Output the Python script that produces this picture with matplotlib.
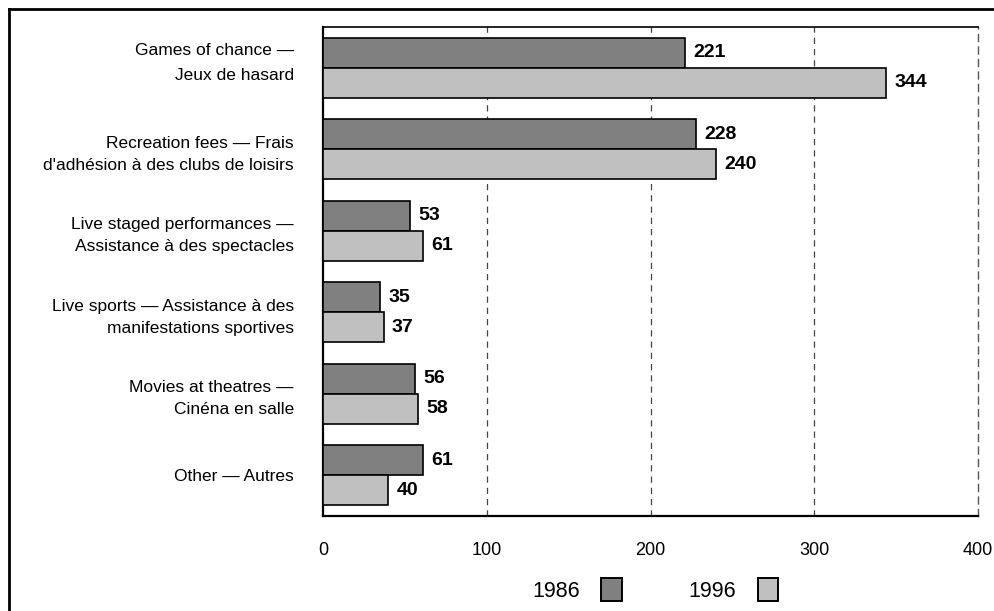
import matplotlib
matplotlib.use("Agg")
import matplotlib.pyplot as plt
import matplotlib.transforms as mtransforms
from matplotlib.lines import Line2D
from matplotlib.patches import Patch
import numpy as np

plt.rcParams['font.family'] = ['Liberation Sans', 'DejaVu Sans']

categories = [
    "Games of chance —\nJeux de hasard",
    "Recreation fees — Frais\nd'adhésion à des clubs de loisirs",
    "Live staged performances —\nAssistance à des spectacles",
    "Live sports — Assistance à des\nmanifestations sportives",
    "Movies at theatres —\nCinéna en salle",
    "Other — Autres",
]
years = ["1986", "1996"]
values_1986 = [221, 228, 53, 35, 56, 61]
values_1996 = [344, 240, 61, 37, 58, 40]
x_ticks = [0, 100, 200, 300, 400]

W, H = 995, 611
fig = plt.figure(figsize=(W / 100, H / 100), dpi=100)
ax = fig.add_axes([323 / W, 1 - 516 / H, (978 - 323) / W, (516 - 27) / H])

colors = ["#808080", "#c0c0c0"]
n = len(categories)
y = np.arange(n)
bh = 0.368

ax.barh(y - bh / 2, values_1986, height=bh, color=colors[0], edgecolor="black", linewidth=1.2, zorder=3)
ax.barh(y + bh / 2, values_1996, height=bh, color=colors[1], edgecolor="black", linewidth=1.2, zorder=3)

for yi, v in zip(y - bh / 2, values_1986):
    ax.annotate(str(v), (v, yi), xytext=(6, 0), textcoords="offset points",
                va="center", ha="left", fontsize=14, fontweight="bold")
for yi, v in zip(y + bh / 2, values_1996):
    ax.annotate(str(v), (v, yi), xytext=(6, 0), textcoords="offset points",
                va="center", ha="left", fontsize=14, fontweight="bold")

ax.set_xlim(0, 400)
ax.set_ylim(n - 0.5, -0.5)
ax.set_xticks(x_ticks)
ax.set_xticklabels([str(t) for t in x_ticks], fontsize=13)
ax.tick_params(axis="x", length=0, pad=19)
ax.set_yticks(y)
ax.set_yticklabels(categories, fontsize=12.5, ha="right")
ax.tick_params(axis="y", length=0, pad=21)
ylabels = ax.get_yticklabels()
for lbl in ylabels:
    lbl.set_linespacing(1.6)
ylabels[0].set_linespacing(1.8)
# first category label sits a little higher than its bars
ylabels[0].set_transform(ylabels[0].get_transform() +
                         mtransforms.ScaledTranslation(0, 8 / 72, fig.dpi_scale_trans))

for xv in x_ticks[1:4]:
    ax.axvline(xv, color="#444444", linestyle=(0, (5, 4)), linewidth=0.9, zorder=1)

for s in ["left", "top", "bottom"]:
    ax.spines[s].set_color("black")
ax.spines["left"].set_linewidth(1.6)
ax.spines["top"].set_linewidth(1.2)
ax.spines["bottom"].set_linewidth(1.6)
ax.spines["right"].set_color("#555555")
ax.spines["right"].set_linestyle((0, (5, 4)))
ax.spines["right"].set_linewidth(1.0)

handles = [Patch(facecolor=colors[0], edgecolor="black", linewidth=1.4),
           Patch(facecolor=colors[1], edgecolor="black", linewidth=1.4)]
fig.legend(handles, years, loc="center", bbox_to_anchor=(655 / W, 1 - 590 / H),
           ncol=2, frameon=False, fontsize=15.5, markerfirst=False,
           handlelength=0.95, handleheight=1.25, handletextpad=1.0, columnspacing=3.1)

# outer frame
fig.add_artist(Line2D([9 / W, 9 / W], [0, 1 - 9 / H], transform=fig.transFigure, color="black", linewidth=2))
fig.add_artist(Line2D([9 / W, 1], [1 - 9 / H, 1 - 9 / H], transform=fig.transFigure, color="black", linewidth=2))

fig.savefig("out.png", dpi=100)
